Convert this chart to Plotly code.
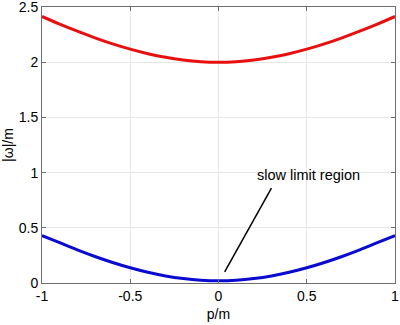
import plotly.graph_objects as go

p = [-1.0, -0.9, -0.8, -0.7, -0.6, -0.5, -0.4, -0.3, -0.2, -0.1, 0.0,
     0.1, 0.2, 0.3, 0.4, 0.5, 0.6, 0.7, 0.8, 0.9, 1.0]
upper = [2.414, 2.345, 2.281, 2.221, 2.166, 2.118, 2.077, 2.044, 2.020, 2.005, 2.000,
         2.005, 2.020, 2.044, 2.077, 2.118, 2.166, 2.221, 2.281, 2.345, 2.414]
lower = [0.430, 0.365, 0.300, 0.240, 0.186, 0.138, 0.097, 0.064, 0.040, 0.025, 0.020,
         0.025, 0.040, 0.064, 0.097, 0.138, 0.186, 0.240, 0.300, 0.365, 0.430]

x_ticks = [-1, -0.5, 0, 0.5, 1]
x_labels = ["-1", "-0.5", "0", "0.5", "1"]
y_ticks = [0, 0.5, 1, 1.5, 2, 2.5]
y_labels = ["0", "0.5", "1", "1.5", "2", "2.5"]

label_text = "slow limit region"
label_pos = (0.51, 0.98)
pointer_from = (0.30, 0.86)
pointer_to = (0.035, 0.10)

font = "Liberation Sans, Arial, sans-serif"

fig = go.Figure()
fig.add_trace(go.Scatter(x=p, y=upper, mode="lines", line=dict(color="#e8100f", width=3), line_shape="spline"))
fig.add_trace(go.Scatter(x=p, y=lower, mode="lines", line=dict(color="#0a0ad0", width=3), line_shape="spline"))

fig.add_shape(type="line", x0=pointer_from[0], y0=pointer_from[1], x1=pointer_to[0], y1=pointer_to[1],
              xref="x", yref="y", line=dict(color="black", width=1.5))
fig.add_annotation(x=label_pos[0], y=label_pos[1], text=label_text, showarrow=False,
                   font=dict(family=font, size=14.5, color="black"), xref="x", yref="y")

axis_common = dict(showline=True, linecolor="#6e6e6e", linewidth=1, mirror="ticks",
                   ticks="inside", ticklen=4, tickcolor="#6e6e6e",
                   showgrid=True, gridcolor="#e6e6e6", gridwidth=1, zeroline=False,
                   automargin=False, ticklabeloverflow="allow",
                   tickfont=dict(family=font, size=14, color="black"))

fig.update_xaxes(range=[-1, 1], tickvals=x_ticks, ticktext=x_labels,
                 title=dict(text="p/m", font=dict(family=font, size=14, color="black"), standoff=6),
                 **axis_common)
fig.update_yaxes(range=[0, 2.5], tickvals=y_ticks, ticktext=y_labels,
                 title=dict(text="|ω|/m", font=dict(family=font, size=14, color="black"), standoff=6),
                 **axis_common)

fig.update_layout(width=400, height=325, margin=dict(l=42, r=5, t=7, b=42, autoexpand=False),
                  plot_bgcolor="white", paper_bgcolor="white", showlegend=False)

fig.write_html("out.html", config={"displayModeBar": False},
               post_script="document.body.style.margin='0';document.body.style.overflow='hidden';")
